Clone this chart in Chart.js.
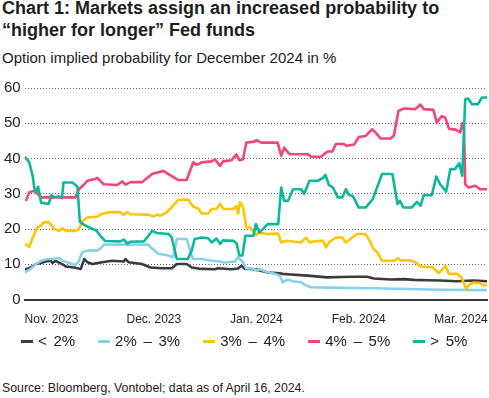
<!DOCTYPE html>
<html>
<head>
<meta charset="utf-8">
<script src="https://cdn.jsdelivr.net/npm/chart.js@4.4.1/dist/chart.umd.min.js"></script>
<style>
  body { margin: 0; background: #fff; font-family: 'Liberation Sans', Arial, sans-serif; color: #222; }
  #wrap { position: relative; width: 489px; height: 398px; overflow: hidden; }
  h1 { position: absolute; left: 2px; top: -2px; margin: 0; font-size: 18px; line-height: 21.5px; font-weight: bold; color: #1e1e1e; }
  .sub { position: absolute; left: 2px; top: 49px; font-size: 15px; line-height: 18px; }
  .src { position: absolute; left: 2px; top: 381px; font-size: 12.3px; line-height: 14px; }
  #box { position: absolute; left: 0; top: 73px; width: 489px; height: 267px; }
  #legend { position: absolute; left: 21px; top: 332px; display: flex; gap: 23px; font-size: 15px; line-height: 18px; word-spacing: 2.5px; }
  #legend .item { display: flex; align-items: center; white-space: nowrap; }
  #legend .dash { width: 12px; height: 3px; margin-right: 5px; }
</style>
</head>
<body>
<div id="wrap">
  <h1>Chart 1: Markets assign an increased probability to<br>“higher for longer” Fed funds</h1>
  <div class="sub">Option implied probability for December 2024 in %</div>
  <div id="box"><canvas id="probChart"></canvas></div>
  <div id="legend"></div>
  <div class="src">Source: Bloomberg, Vontobel; data as of April 16, 2024.</div>
</div>
<script>
// x = trading day counted from the first observation, y = probability in %
const under2 = [[0,8.5],[2,9.1],[3.8,10.1],[5.5,10.4],[7,10.8],[8.8,11],[9.3,10.4],[10.4,11],[11.5,10.5],[12.7,10],[13.8,9.4],[16.5,9.1],[17.7,8.9],[18.8,8.7],[20,11.5],[21,10.6],[22.7,10.1],[26,10.6],[29.3,11],[33.2,10.8],[33.8,11.5],[34.8,10.6],[39.3,10.1],[42.2,9.1],[46,8.9],[49.3,8.9],[51,10.1],[54.3,10.1],[56,9.1],[59.3,8.7],[63.8,8.6],[64.8,8.9],[69.3,8.6],[71.5,8.8],[72.7,9.6],[73.8,8.7],[76,8.7],[77.7,8.5],[81.5,7.7],[84.8,7.5],[86.5,7.3],[89.3,7.1],[94.8,6.8],[101.5,6.3],[106,6.4],[111.5,6.5],[114.8,6.5],[117,6],[122.7,5.7],[127.2,5.8],[130.5,5.6],[135,5.5],[139.3,5.4],[144.8,5.2],[150.5,5.4],[155,5.2]];
const from2to3 = [[0,7.7],[2,8.7],[3.8,10.1],[5.5,11],[7.7,11.5],[9.8,11.5],[11.5,11.8],[12.7,11],[14.3,10.6],[16,10.1],[17,9.8],[18.2,11],[19.3,13.4],[21.5,14],[24.3,13.9],[25.5,14.5],[26.5,15.6],[41.5,15.6],[42.5,14.6],[44.8,13],[48.2,12.5],[49.8,12],[51,17.2],[54.3,17.2],[56,12.5],[56.5,11.5],[59.3,11.5],[62.7,11],[65.5,10.8],[67,10.5],[70.5,10.8],[71.5,12],[73.2,10.6],[74.3,8.8],[76.5,8.8],[77.7,8.2],[78.8,8.6],[81,7.9],[83.8,7.3],[85.5,6.8],[86.5,4.9],[88.2,5.7],[89.8,5.2],[92.7,4.9],[94.3,4],[96,3.5],[101.5,3.4],[117,3.2],[128.2,3],[139.3,2.8],[155,2.7]];
const from3to4 = [[0,15.8],[1.5,15],[2.7,17.6],[4.3,20.5],[5.5,21],[6.3,21.9],[8,22],[9,21],[10,20],[11.5,19.5],[12.7,20.2],[13.7,19.5],[17,19.5],[18.2,20],[19.3,22.2],[21,23.3],[24.3,23.5],[25.5,24.2],[28.2,24.8],[32,24.8],[33.2,24],[34.3,24.8],[35.5,24.2],[41.5,24.1],[43.2,23.6],[44.3,24.1],[45.5,23.8],[47.2,24.5],[49.3,26.2],[51.5,28.3],[54.8,28.3],[56.5,26.4],[58.2,25.8],[59.3,24.4],[61.5,24.4],[62.7,25.7],[64.3,25.7],[65.5,27.2],[66.5,25.7],[69.8,25.7],[71,26.5],[71.5,24.4],[72.2,27.6],[73.2,26.3],[74.3,20.5],[75.5,20.5],[77.5,18.3],[78.7,19],[81,18.6],[85,18.7],[86,16.2],[87.7,16.7],[92.7,16.2],[94.3,17.6],[95.5,16.2],[97,16.5],[100,16.7],[101,14.8],[102,16.2],[104.3,17.6],[106.5,17.6],[107.7,16.2],[109.8,17.6],[111.5,18.6],[114.3,18.6],[116,16.2],[117,14.3],[118.2,13.5],[119.8,11],[123.8,11],[125.2,11.7],[126.3,11],[127.7,11.2],[129.3,11.1],[131,10.6],[133,9.3],[136.8,9.2],[138.8,7.5],[141,9.6],[142.2,7.3],[145,7.3],[146.5,6.2],[148,3.1],[149.3,4.4],[150.5,4.8],[152.7,4.7],[153.8,4.1],[155,4.1]];
const from4to5 = [[0.4,28],[1.5,30.4],[3.2,30.9],[5.5,29],[12,29],[17,29],[18.2,31.3],[20,32.7],[21,33.7],[23.7,34.2],[24.3,34.5],[26.5,32.7],[31,32.5],[32.7,33.5],[33.8,32.6],[35.5,33.3],[39.3,33.3],[41,34.4],[42.7,35.6],[46.5,36.5],[48.2,35.6],[51.5,33.9],[54.3,33.9],[56.5,38.9],[57.7,38.2],[59.3,38.9],[62.7,39.2],[63.8,39.8],[65.5,37.9],[66.5,39.2],[69.3,39.5],[71,41.2],[72,39.5],[73.2,39.8],[74.3,44.5],[77,44.8],[77.7,45.2],[79.3,44.5],[84.8,44.5],[86,40.8],[87,43.1],[88.8,41.2],[95,41.2],[96,40.5],[99.3,40.5],[101.5,42],[103.2,42],[104.3,44.1],[107,44.1],[108,43.6],[110.5,44],[112,46.1],[114.3,46.4],[116.5,48.3],[117.7,47.3],[119.3,45.7],[122.7,45.7],[123.8,46.5],[125.3,53.5],[127.2,54.2],[131,54],[132.7,55.3],[133.8,54],[137,53.8],[138.2,50.2],[139.8,52],[141,51.6],[142.3,48.4],[144.5,48.2],[146,47.4],[146.7,50],[147.3,48],[147.7,32.7],[148.8,31.8],[151,32.3],[152.7,31.3],[155,31.3]];
const over5 = [[0,40.5],[1.5,39],[2.7,35],[3.2,31.8],[3.8,30.5],[4.5,32],[5.5,27.5],[8,27.1],[9,29.6],[10,29],[11.5,29.3],[12.5,28.8],[13,33.2],[16,33.2],[17.7,32],[18.5,22],[20,21.2],[22,20.3],[24,19.6],[25.5,18],[27,16.6],[32,16.5],[33.3,17],[34.3,15.9],[35.5,16.4],[40,16.5],[41.5,18.1],[42.7,19.5],[44.3,18.9],[48.3,18.6],[49.3,17.6],[51,11.5],[54.7,11.5],[56,13.9],[57,17.2],[59.3,17.6],[61.5,17.4],[62.7,16.2],[64.3,17.3],[65.5,15.8],[66.5,16.8],[70,16.7],[71,16],[72,12.5],[73,12.5],[74,18.1],[76.7,18.1],[77.5,21.4],[78.7,19],[81.5,21.4],[85,21.4],[86,31.8],[87,28],[88.3,28],[90,31.3],[92.7,31.3],[93.7,30],[95.5,33.7],[98.3,33.7],[100,34.5],[100.8,35.4],[102,32.5],[103.3,31.8],[105,29],[106.5,29],[107.7,31.3],[108.7,29.7],[110,29.4],[112,26.1],[114.3,26.1],[116.7,28.5],[119.8,35.6],[123.3,35.6],[125,27.1],[125.8,28],[127,26.1],[129.8,26.1],[131.5,27.7],[132.7,26.6],[133.8,29.6],[136.5,29.6],[138,34.9],[139.3,32.7],[141.3,30.6],[142.7,37],[144.3,37],[145.7,38.7],[146.7,35.1],[147.7,56.8],[148.7,57],[150,55.4],[152,55.4],[153.3,57.3],[155,57.3]];

const seriesNames = ['< 2%', '2% – 3%', '3% – 4%', '4% – 5%', '> 5%'];
const seriesColors = ['#3b3b3b', '#86d2e8', '#fdc600', '#f1457b', '#0cb89b'];
const monthDays = [9, 43.3, 77.7, 112, 146.3];
const monthLabels = ['Nov. 2023', 'Dec. 2023', 'Jan. 2024', 'Feb. 2024', 'Mar. 2024'];

const allSeries = [under2, from2to3, from3to4, from4to5, over5];
const drawOrder = [5, 4, 3, 2, 1];

const datasets = allSeries.map((s, i) => ({
    label: seriesNames[i],
    data: s.map(p => ({ x: p[0], y: p[1] })),
    borderColor: seriesColors[i],
    backgroundColor: seriesColors[i],
    borderWidth: 2.6,
    borderJoinStyle: 'round',
    pointRadius: 0,
    tension: 0,
    order: drawOrder[i]
}));

let probChart = new Chart(document.getElementById('probChart'), {
    type: 'line',
    data: { datasets: datasets },
    options: {
        responsive: true,
        maintainAspectRatio: false,
        animation: false,
        layout: { padding: { top: 15, right: 2, left: 0, bottom: 0 } },
        plugins: {
            tooltip: { enabled: false },
            legend: { display: false }
        },
        scales: {
            x: {
                type: 'linear',
                min: 0,
                max: 155,
                grid: { display: false, drawTicks: false },
                border: { display: true, color: '#3a3a3a', width: 2 },
                afterBuildTicks: function (scale) {
                    scale.ticks = monthDays.map(d => ({ value: d }));
                },
                // labels sit inside the plot width, so no extra side padding
                afterFit: function (scale) {
                    scale.paddingLeft = 0;
                    scale.paddingRight = 0;
                },
                ticks: {
                    autoSkip: false,
                    maxRotation: 0,
                    padding: 13,
                    color: '#222',
                    font: { family: "'Liberation Sans', Arial, sans-serif", size: 12 },
                    callback: function (value, index) {
                        return monthLabels[index];
                    }
                }
            },
            y: {
                min: 0,
                max: 60,
                grid: { color: '#666', lineWidth: 1, drawTicks: false },
                border: { display: false, dash: [1, 2] },
                ticks: {
                    stepSize: 10,
                    padding: 4,
                    color: '#222',
                    font: { family: "'Liberation Sans', Arial, sans-serif", size: 15 }
                }
            }
        }
    }
});

// legend built from the chart's own datasets, in dataset order
let legendBox = document.getElementById('legend');
probChart.data.datasets.forEach(ds => {
    let item = document.createElement('div');
    item.className = 'item';
    let dash = document.createElement('span');
    dash.className = 'dash';
    dash.style.background = ds.borderColor;
    let text = document.createElement('span');
    text.textContent = ds.label;
    item.appendChild(dash);
    item.appendChild(text);
    legendBox.appendChild(item);
});
</script>
</body>
</html>
